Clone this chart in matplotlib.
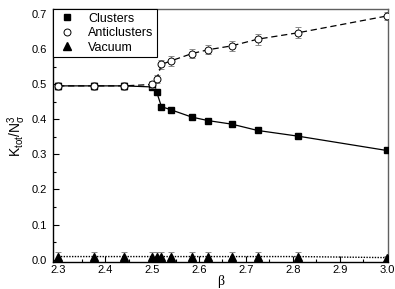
import matplotlib
matplotlib.use("Agg")
import matplotlib.pyplot as plt
from matplotlib.ticker import MultipleLocator

beta = [2.30, 2.377, 2.44, 2.50, 2.51, 2.52, 2.54, 2.585, 2.62, 2.67, 2.725, 2.81, 3.00]
clusters = [0.495, 0.495, 0.495, 0.492, 0.477, 0.436, 0.427, 0.406, 0.396, 0.386, 0.368, 0.352, 0.311]
clusters_err = [0.004, 0.004, 0.004, 0.004, 0.004, 0.004, 0.004, 0.004, 0.004, 0.004, 0.004, 0.004, 0.004]
anti = [0.495, 0.495, 0.495, 0.499, 0.514, 0.556, 0.566, 0.587, 0.598, 0.609, 0.628, 0.646, 0.694]
anti_err = [0.012, 0.012, 0.012, 0.010, 0.012, 0.012, 0.014, 0.014, 0.012, 0.014, 0.016, 0.016, 0.012]
vacuum = [0.009, 0.009, 0.009, 0.009, 0.009, 0.009, 0.009, 0.009, 0.009, 0.009, 0.009, 0.009, 0.006]
vacuum_err = [0.012, 0.012, 0.012, 0.012, 0.012, 0.012, 0.012, 0.012, 0.012, 0.012, 0.012, 0.012, 0.006]

xticks = [2.3, 2.4, 2.5, 2.6, 2.7, 2.8, 2.9, 3.0]
yticks = [0.0, 0.1, 0.2, 0.3, 0.4, 0.5, 0.6, 0.7]

plt.rcParams['font.family'] = ['Liberation Sans', 'DejaVu Sans']
plt.rcParams['mathtext.fontset'] = 'custom'
plt.rcParams['mathtext.rm'] = 'Liberation Sans'
plt.rcParams['mathtext.it'] = 'Liberation Sans'

fig = plt.figure(figsize=(3.95, 2.89), dpi=100)
ax = fig.add_axes([0.134, 0.094, 0.849, 0.875])

ecol = '#8a8a8a'
ax.errorbar(beta, vacuum, yerr=vacuum_err, fmt='^', color='black', ms=5.5,
            ls=(0, (1, 1.0)), lw=1.0, ecolor=ecol, elinewidth=0.7, capsize=2.2,
            capthick=0.7, label='Vacuum', zorder=3)
ax.errorbar(beta, clusters, yerr=clusters_err, fmt='s', color='black', ms=4.3,
            ls='-', lw=0.9, ecolor=ecol, elinewidth=0.7, capsize=2.2,
            capthick=0.7, label='Clusters', zorder=4)
ax.errorbar(beta, anti, yerr=anti_err, fmt='o', color='black', mfc='white',
            mec='black', mew=0.7, ms=5.0, ls=(0, (5, 3)), lw=0.9, ecolor=ecol,
            elinewidth=0.7, capsize=2.2, capthick=0.7, label='Anticlusters',
            zorder=5)

ax.set_xlim(2.289, 3.003)
ax.set_ylim(-0.006, 0.714)
ax.set_xticks(xticks)
ax.set_yticks(yticks)
ax.set_xticklabels([f"{v:.1f}" for v in xticks])
ax.set_yticklabels([f"{v:.1f}" for v in yticks])
ax.xaxis.set_minor_locator(MultipleLocator(0.05))
ax.yaxis.set_minor_locator(MultipleLocator(0.05))
ax.tick_params(which='both', direction='in', top=False, right=False,
               labelsize=8, colors='black', width=0.8)
ax.tick_params(which='major', length=4.5)
ax.tick_params(axis='x', which='major', pad=2.5)
ax.tick_params(axis='y', which='major', pad=4)
ax.tick_params(which='minor', length=2.5)

for s in ['left', 'bottom']:
    ax.spines[s].set_color('black')
    ax.spines[s].set_linewidth(1.0)
for s in ['top', 'right']:
    ax.spines[s].set_color('#606060')
    ax.spines[s].set_linewidth(1.0)

ax.set_xlabel('β', family=['Liberation Serif', 'DejaVu Serif'], fontsize=10, labelpad=-0.5)
ax.set_ylabel(r'$\mathregular{K_{tot}/N_\sigma^3}$', fontsize=10, labelpad=3)

h, l = ax.get_legend_handles_labels()
order = [1, 2, 0]
leg = ax.legend([h[i][0] for i in order], [l[i] for i in order], loc='upper left',
                bbox_to_anchor=(0, 1), borderaxespad=0, fancybox=False,
                edgecolor='black', framealpha=1, fontsize=9,
                handlelength=1.7, handletextpad=0.8, labelspacing=0.2,
                borderpad=0.3, numpoints=1)
leg.get_frame().set_linewidth(0.8)
for lh in leg.legend_handles:
    lh.set_linestyle('none')

fig.savefig('out.png', dpi=100)
